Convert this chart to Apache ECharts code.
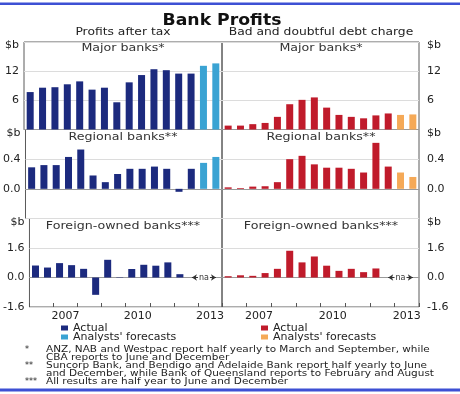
<!DOCTYPE html>
<html>
<head>
<meta charset="utf-8">
<script src="https://cdn.jsdelivr.net/npm/echarts@6/dist/echarts.min.js"></script>
<style>
html,body{margin:0;padding:0;background:#fff;}
#chart{width:460px;height:394px;}
</style>
</head>
<body>
<div id="chart"></div>
<script>
// ---- data ----
const halfYears = ['Jun-06','Dec-06','Jun-07','Dec-07','Jun-08','Dec-08','Jun-09','Dec-09','Jun-10','Dec-10','Jun-11','Dec-11','Jun-12','Dec-12','Jun-13','Dec-13'];
const yearLabels = ['2006','2007','2008','2009','2010','2011','2012','2013'];
const shownYears = ['2007','2010','2013'];

const majorProfitActual   = [7.7, 8.6, 8.7, 9.3, 9.9, 8.2, 8.6, 5.6, 9.7, 11.2, 12.4, 12.2, 11.5, 11.5, null, null];
const majorProfitForecast = [null, null, null, null, null, null, null, null, null, null, null, null, null, null, 13.1, 13.6];
const majorDebtActual     = [0.8, 0.8, 1.1, 1.35, 2.6, 5.2, 6.1, 6.6, 4.5, 3.0, 2.6, 2.3, 2.9, 3.3, null, null];
const majorDebtForecast   = [null, null, null, null, null, null, null, null, null, null, null, null, null, null, 3.0, 3.1];

const regionalProfitActual   = [0.29, 0.32, 0.32, 0.43, 0.53, 0.18, 0.09, 0.20, 0.27, 0.27, 0.30, 0.27, -0.04, 0.27, null, null];
const regionalProfitForecast = [null, null, null, null, null, null, null, null, null, null, null, null, null, null, 0.35, 0.43];
const regionalDebtActual     = [0.02, 0.01, 0.03, 0.035, 0.09, 0.40, 0.445, 0.33, 0.285, 0.285, 0.27, 0.22, 0.62, 0.30, null, null];
const regionalDebtForecast   = [null, null, null, null, null, null, null, null, null, null, null, null, null, null, 0.22, 0.16];

const foreignProfitActual = [0.65, 0.54, 0.78, 0.67, 0.47, -0.94, 0.96, 0.02, 0.46, 0.69, 0.64, 0.82, 0.18, null, null, null];
const foreignDebtActual   = [0.07, 0.12, 0.09, 0.24, 0.47, 1.45, 0.82, 1.14, 0.64, 0.36, 0.47, 0.29, 0.49, null, null, null];
const naRange = [halfYears[13], halfYears[15]];
const naMid = halfYears[14];

const panelTitles = ['Major banks*', 'Regional banks**', 'Foreign-owned banks***'];
const columnTitles = ['Profits after tax', 'Bad and doubtful debt charge'];
const footnotes = [
  ['*', 'ANZ, NAB and Westpac report half yearly to March and September, while'],
  ['', 'CBA reports to June and December'],
  ['**', 'Suncorp Bank, and Bendigo and Adelaide Bank report half yearly to June'],
  ['', 'and December, while Bank of Queensland reports to February and August'],
  ['***', 'All results are half year to June and December']
];

// ---- styling ----
const FONT = '"DejaVu Sans", sans-serif';
const NAVY = '#1c2a7e', LIGHTBLUE = '#3aa3d3', RED = '#c01b2b', ORANGE = '#f5a957';
const nameMap = {'Profit actual':'Actual','Profit forecast':"Analysts' forecasts",'Debt actual':'Actual','Debt forecast':"Analysts' forecasts"};

const scales = [
  {min: 0, max: 18, interval: 6, fmt: v => String(v), bottom: ''},
  {min: -0.4, max: 0.8, interval: 0.4, fmt: v => v.toFixed(1), bottom: ''},
  {min: -1.6, max: 3.2, interval: 1.6, fmt: v => v.toFixed(1), bottom: '-1.6'}
];
const rowTop = [42, 129.5, 218.5];
const rowH = [87.5, 89, 88.5];
const colLeft = [24, 222];
const colW = [198, 197];

const grids = [], xAxes = [], yAxes = [];
for (let r = 0; r < 3; r++) {
  for (let c = 0; c < 2; c++) {
    const gi = r * 2 + c;
    const sc = scales[r];
    grids.push({left: colLeft[c], top: rowTop[r], width: colW[c], height: rowH[r], show: true,
      borderColor: '#5a5a5a', borderWidth: 1, backgroundColor: 'transparent'});
    xAxes.push({type: 'category', gridIndex: gi, data: halfYears, boundaryGap: true,
      axisLabel: {show: false}, axisTick: {show: false},
      axisLine: {show: true, onZero: true, lineStyle: {color: '#9a9a9a', width: 1}}});
    yAxes.push({type: 'value', gridIndex: gi, min: sc.min, max: sc.max, interval: sc.interval,
      position: c === 0 ? 'left' : 'right',
      axisLine: {show: false}, axisTick: {show: false},
      splitLine: {show: true, lineStyle: {color: '#dcdcdc', width: 1}},
      axisLabel: {show: true, fontSize: 11, color: '#222', fontFamily: FONT, margin: c === 0 ? 5 : 8,
        formatter: v => {
          if (Math.abs(v - sc.max) < 1e-9) return '{b|$b}';
          if (Math.abs(v - sc.min) < 1e-9) return sc.bottom;
          return sc.fmt(v);
        },
        rich: {b: {fontSize: 11, color: '#222', fontFamily: FONT, padding: [7, 0, 0, 0]}}}});
  }
}
// year axes for bottom row
[4, 5].forEach(gi => {
  xAxes.push({type: 'category', gridIndex: gi, data: yearLabels, boundaryGap: true, position: 'bottom',
    axisLine: {show: false, onZero: false},
    axisTick: {show: true, inside: true, length: 4, interval: 0, lineStyle: {color: '#555'}},
    axisLabel: {show: true, interval: (i, v) => shownYears.indexOf(v) >= 0, margin: 4,
      fontSize: 11, color: '#222', fontFamily: FONT}});
});

function bars(name, gi, data, color) {
  return {type: 'bar', name: name, xAxisIndex: gi, yAxisIndex: gi, data: data, barWidth: 7, barGap: '-100%',
    itemStyle: {color: color}, silent: true};
}
function naMarks() {
  return {
    markLine: {silent: true, symbol: ['arrow', 'arrow'], symbolSize: 5, label: {show: false},
      lineStyle: {color: '#333', width: 1, type: 'solid'},
      data: [[{coord: [naRange[0], 0]}, {coord: [naRange[1], 0]}]]},
    markPoint: {silent: true, symbol: 'rect', symbolSize: [12, 7], itemStyle: {color: '#fff'},
      label: {show: true, position: 'inside', formatter: 'na', fontSize: 8, color: '#333', fontFamily: FONT},
      data: [{coord: [naMid, 0]}]}
  };
}

const series = [
  bars('Profit actual', 0, majorProfitActual, NAVY),
  bars('Profit forecast', 0, majorProfitForecast, LIGHTBLUE),
  bars('Debt actual', 1, majorDebtActual, RED),
  bars('Debt forecast', 1, majorDebtForecast, ORANGE),
  bars('Profit actual', 2, regionalProfitActual, NAVY),
  bars('Profit forecast', 2, regionalProfitForecast, LIGHTBLUE),
  bars('Debt actual', 3, regionalDebtActual, RED),
  bars('Debt forecast', 3, regionalDebtForecast, ORANGE),
  Object.assign(bars('Profit actual', 4, foreignProfitActual, NAVY), naMarks()),
  Object.assign(bars('Debt actual', 5, foreignDebtActual, RED), naMarks())
];

function txt(text, x, y, size, opts) {
  opts = opts || {};
  return {type: 'text', x: x, y: y, scaleX: opts.scaleX || 1, silent: true,
    style: {text: text, font: (opts.bold ? 'bold ' : '') + size + 'px ' + FONT,
      fill: opts.color || '#222', textAlign: opts.align || 'center', align: opts.align || 'center',
      textVerticalAlign: 'middle', verticalAlign: 'middle'}};
}

const graphics = [
  {type: 'rect', silent: true, shape: {x: 0, y: 2.5, width: 460, height: 2.5}, style: {fill: '#3d50d4'}},
  {type: 'rect', silent: true, shape: {x: 0, y: 388.5, width: 460, height: 3}, style: {fill: '#3d50d4'}},
  txt('Bank Profits', 222, 21, 15, {bold: true, scaleX: 1.15, color: '#111'}),
  txt(columnTitles[0], 123, 32.5, 11, {scaleX: 1.12}),
  txt(columnTitles[1], 321, 32.5, 11, {scaleX: 1.12})
];
const labelY = [48.5, 137, 226];
for (let r = 0; r < 3; r++) {
  graphics.push(txt(panelTitles[r], 123, labelY[r], 11, {scaleX: 1.15, color: '#333'}));
  graphics.push(txt(panelTitles[r], 321, labelY[r], 11, {scaleX: 1.15, color: '#333'}));
}
const footY = [349.5, 357.5, 365.5, 373.5, 381.5];
footnotes.forEach((f, i) => {
  if (f[0]) graphics.push(txt(f[0], 25, footY[i], 8, {align: 'left', color: '#222'}));
  graphics.push(txt(f[1], 46, footY[i], 8, {align: 'left', scaleX: 1.31, color: '#222'}));
});

const legendBase = {orient: 'vertical', top: 322.5, itemWidth: 7, itemHeight: 5, itemGap: -2, padding: 0,
  icon: 'rect', selectedMode: false, formatter: n => nameMap[n],
  textStyle: {fontSize: 11, color: '#222', fontFamily: FONT}};

const option = {
  animation: false,
  textStyle: {fontFamily: FONT},
  grid: grids,
  xAxis: xAxes,
  yAxis: yAxes,
  legend: [
    Object.assign({}, legendBase, {left: 61, data: ['Profit actual', 'Profit forecast']}),
    Object.assign({}, legendBase, {left: 261, data: ['Debt actual', 'Debt forecast']})
  ],
  graphic: graphics,
  series: series
};

const chart = echarts.init(document.getElementById('chart'), null, {renderer: 'canvas'});
chart.setOption(option);
</script>
</body>
</html>
